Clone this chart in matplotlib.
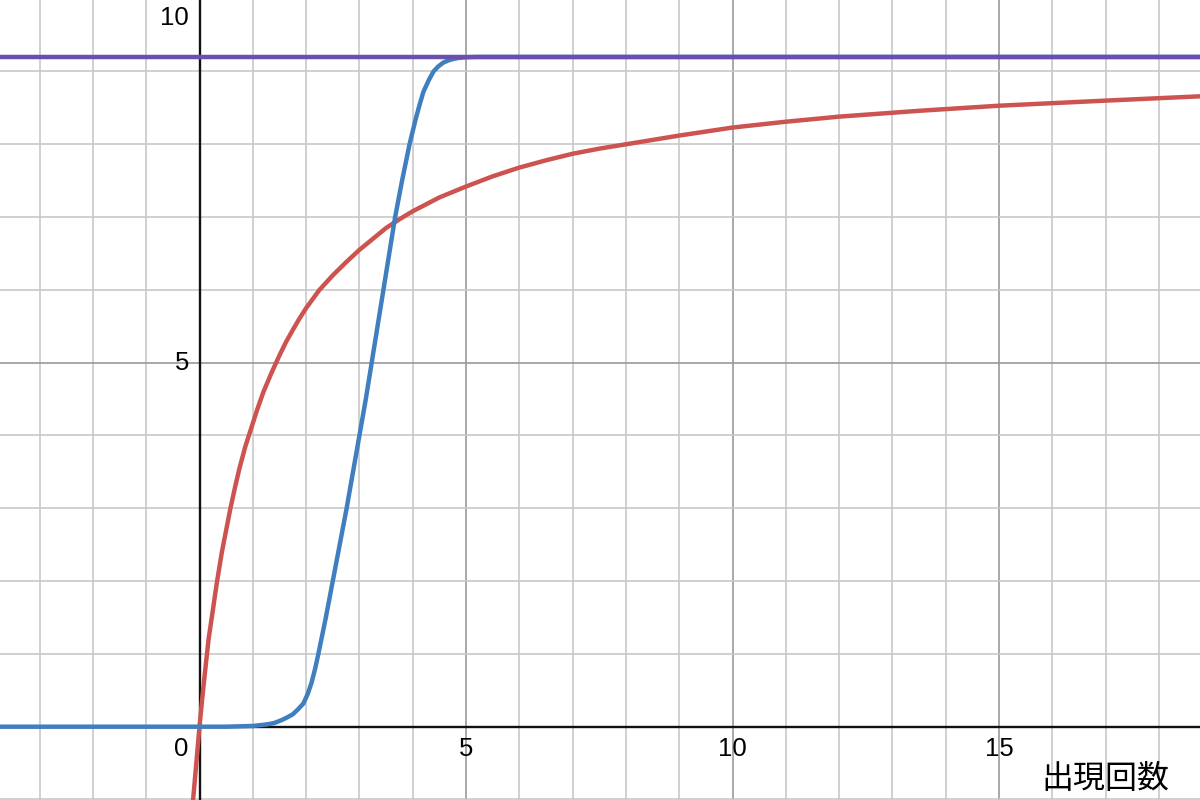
import numpy as np
import matplotlib.pyplot as plt

plt.rcParams['font.family'] = ['Liberation Sans', 'DejaVu Sans']

# values
red_x = [-0.12, -0.06, 0.0, 0.05, 0.1, 0.17, 0.25, 0.33, 0.42, 0.5, 0.58, 0.67, 0.75, 0.86,
         0.97, 1.08, 1.2, 1.35, 1.5, 1.62, 1.75, 1.87, 2.0, 2.25, 2.5, 2.75, 3.0, 3.25, 3.5,
         3.75, 4.0, 4.5, 5.0, 5.5, 6.0, 6.5, 7.0, 7.5, 8.0, 9.0, 10.0, 11.0, 12.0, 13.5,
         15.0, 17.0, 18.8]
red_y = [-1.0, -0.5, 0.0, 0.38, 0.73, 1.2, 1.6, 2.0, 2.4, 2.7, 3.0, 3.3, 3.55, 3.85,
         4.1, 4.35, 4.6, 4.86, 5.1, 5.28, 5.45, 5.6, 5.75, 6.0, 6.2, 6.38, 6.55, 6.7, 6.85,
         6.97, 7.08, 7.27, 7.42, 7.56, 7.68, 7.78, 7.87, 7.94, 8.0, 8.12, 8.23, 8.31, 8.38, 8.46,
         8.53, 8.6, 8.66]

blue_x = [-3.8, 0.5, 1.0, 1.25, 1.4, 1.54, 1.65, 1.75, 1.85, 1.95, 2.03, 2.1, 2.17, 2.23,
          2.3, 2.37, 2.5, 2.63, 2.76, 2.88, 3.0, 3.12, 3.23, 3.34, 3.45, 3.56, 3.67, 3.8,
          3.94, 4.05, 4.12, 4.2, 4.3, 4.39, 4.48, 4.57, 4.66, 4.75, 4.85, 5.0, 5.2, 18.8]
blue_y = [0.0, 0.0, 0.01, 0.03, 0.05, 0.09, 0.13, 0.17, 0.24, 0.32, 0.45, 0.6, 0.8, 1.0,
          1.25, 1.5, 2.0, 2.5, 3.0, 3.5, 4.0, 4.5, 5.0, 5.5, 6.0, 6.5, 7.0, 7.5,
          8.0, 8.33, 8.52, 8.72, 8.88, 9.0, 9.07, 9.12, 9.15, 9.17, 9.185, 9.195, 9.2, 9.2]

cap = 9.2

x_ticks = [0, 5, 10, 15]
y_ticks = [5, 10]
x_label = '出現回数'

fig = plt.figure(figsize=(12, 8), dpi=100)
ax = fig.add_axes([0, 0, 1, 1])

# grid: light every unit, darker every 5
ax.set_xticks(np.arange(-5, 20, 5))
ax.set_yticks(np.arange(-5, 15, 5))
ax.set_xticks(np.arange(-4, 20, 1), minor=True)
ax.set_yticks(np.arange(-1, 11, 1), minor=True)
ax.grid(which='minor', color='#c8c8c8', lw=1.2)
ax.grid(which='major', color='#999999', lw=1.2)
ax.tick_params(which='both', length=0, labelbottom=False, labelleft=False)
for s in ax.spines.values():
    s.set_visible(False)
ax.set_axisbelow(True)

ax.axhline(0, color='#111111', lw=1.7, zorder=2)
ax.axvline(0, color='#111111', lw=1.7, zorder=2)

ax.plot(red_x, red_y, color='#cd5350', lw=3.2, solid_capstyle='round',
        solid_joinstyle='round', zorder=3)
ax.plot(blue_x, blue_y, color='#3f7fbf', lw=3.2, solid_capstyle='round',
        solid_joinstyle='round', zorder=4)
ax.axhline(cap, color='#6a4fae', lw=3.2, zorder=5)

ax.set_xlim(-3.743, 18.77)
ax.set_ylim(-1.007, 9.982)

# tick labels
for v in x_ticks:
    if v == 0:
        ax.text(-0.35, -0.3, '0', ha='center', va='center', fontsize=18.5)
    else:
        ax.text(v, -0.3, str(v), ha='center', va='center', fontsize=18.5)
for v in y_ticks:
    yy = min(v, 9.73)
    ax.text(-0.2, yy, str(v), ha='right', va='center', fontsize=18.5)

ax.text(18.2, -0.72, x_label, ha='right', va='center', fontsize=23,
        family=['Noto Sans CJK JP', 'DejaVu Sans'])

fig.savefig('out.png', dpi=100)
